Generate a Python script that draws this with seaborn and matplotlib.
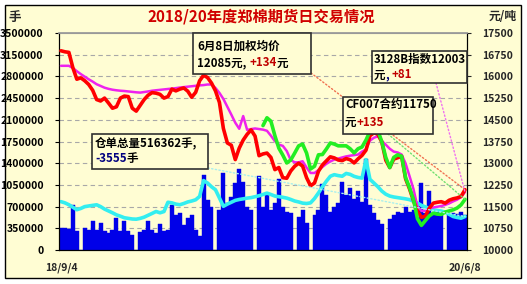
import numpy as np
import pandas as pd
import matplotlib
matplotlib.use("Agg")
import matplotlib.pyplot as plt
from matplotlib.patches import Rectangle
import seaborn as sns

# ---------------- data ----------------
date_labels = ["18/9/4", "20/6/8"]

volume = [360000, 350000, 340000, 720000, 300000, 0, 350000, 330000, 470000, 330000,
          440000, 300000, 280000, 330000, 520000, 300000, 460000, 300000, 250000, 0,
          290000, 330000, 470000, 330000, 280000, 420000, 300000, 330000, 720000, 560000,
          600000, 400000, 510000, 560000, 330000, 220000, 1210000, 800000, 700000, 0,
          650000, 1250000, 760000, 850000, 1080000, 1300000, 1100000, 700000, 650000, 0,
          1190000, 700000, 880000, 650000, 760000, 1150000, 700000, 620000, 600000, 0,
          540000, 650000, 430000, 0, 560000, 650000, 1060000, 880000, 620000, 700000,
          760000, 1100000, 880000, 1000000, 820000, 950000, 780000, 1460000, 720000, 600000,
          480000, 420000, 0, 500000, 560000, 620000, 600000, 700000, 620000, 650000,
          480000, 1080000, 600000, 950000, 560000, 650000, 600000, 0, 560000, 600000,
          580000, 620000, 560000]

open_interest = [780000, 760000, 730000, 690000, 650000, 670000, 700000, 710000, 720000, 729000,
                 700000, 660000, 630000, 600000, 567000, 545000, 520000, 510000, 500000, 497000,
                 510000, 530000, 560000, 590000, 621000, 600000, 620000, 770000, 760000, 740000,
                 730000, 750000, 775000, 790000, 810000, 864000, 1120000, 1080000, 1020000, 972000,
                 840000, 705000, 740000, 770000, 800000, 815000, 825000, 837000, 845000, 860000,
                 875000, 895000, 918000, 895000, 870000, 860000, 850000, 837000, 815000, 790000,
                 775000, 756000, 750000, 760000, 830000, 920000, 1020000, 1110000, 1190000, 1215000,
                 1200000, 1190000, 1235000, 1220000, 1188000, 1170000, 1160000, 1458000, 1140000, 1080000,
                 1020000, 950000, 900000, 870000, 855000, 845000, 835000, 825000, 812000, 785000,
                 756000, 720000, 695000, 670000, 648000, 638000, 628000, 610000, 575000, 540000,
                 525000, 513000, 540000]

weighted_price = [16885, 16850, 16830, 16300, 15903, 15950, 15850, 15720, 15520, 15200,
                  15150, 15250, 15080, 14900, 14950, 15250, 15320, 15300, 14900, 14800,
                  15000, 15200, 15350, 15440, 15420, 15380, 15250, 15300, 15560, 15500,
                  15560, 15600, 15490, 15280, 15450, 15850, 16040, 15960, 15770, 15500,
                  15100, 14200, 13700, 13620, 13125, 13520, 13800, 14000, 14150, 13935,
                  13260, 13320, 13350, 13200, 12778, 12850, 12500, 12480, 12730, 12894,
                  13000, 12900, 12500, 12220, 12315, 12720, 12940, 13080, 13220, 13183,
                  13110, 13090, 13160, 13120, 13009, 13150, 13270, 13450, 13950, 14051,
                  14000, 13730, 13100, 12850, 13140, 13190, 13240, 12460, 12110, 11700,
                  11340, 11130, 11170, 11450, 11620, 11650, 11670, 11620, 11720, 11770,
                  11800, 11850, 12085]

index_3128b = [16366, 16366, 16366, 16290, 16180, 16080, 15990, 15900, 15820, 15729,
               15670, 15610, 15570, 15540, 15520, 15505, 15495, 15480, 15465, 15450,
               15440, 15460, 15480, 15505, 15521, 15535, 15550, 15565, 15578, 15595,
               15615, 15630, 15645, 15660, 15675, 15690, 15700, 15720, 15720, 15600,
               15430, 15220, 14950, 14680, 14400, 14190, 14630, 14150, 14180, 14200,
               14180, 14160, 14120, 13950, 13760, 13640, 13600, 13420, 13110, 13030,
               13030, 13067, 12850, 12662, 12662, 12760, 12870, 12980, 13060, 13125,
               13160, 13200, 13235, 13260, 13280, 13300, 13400, 13480, 13780, 13880,
               13930, 13770, 13640, 13500, 13400, 13370, 13300, 12990, 12550, 12100,
               11500, 11350, 11360, 11440, 11470, 11495, 11520, 11560, 11610, 11680,
               11740, 11830, 12003]

cf007 = [np.nan] * 51 + [
    14300, 14570, 14450, 13950, 13520, 13280, 13009, 13110, 13350,
    13600, 13660, 13350, 12800, 12894, 13290, 13300, 13490, 13700, 13660,
    13600, 13600, 13600, 13500, 13356, 13500, 13560, 13800, 14100, 14167,
    14130, 13740, 13200, 12850, 13200, 13290, 13240, 12500, 12150, 11736,
    11080, 10850, 11020, 11180, 11273, 11240, 11230, 11310, 11350, 11389,
    11450, 11560, 11750]

left_ticks = [0, 350000, 700000, 1050000, 1400000, 1750000, 2100000, 2450000,
              2800000, 3150000, 3500000]
right_ticks = [10000, 10750, 11500, 12250, 13000, 13750, 14500, 15250, 16000,
               16750, 17500]

idx = np.arange(len(volume))
df = pd.DataFrame({"i": idx, "volume": volume, "oi": open_interest,
                   "price": weighted_price, "idx3128": index_3128b, "cf007": cf007})

# ---------------- style ----------------
sns.set_theme(style="white")
plt.rcParams["font.family"] = ["Noto Sans CJK SC", "DejaVu Sans"]
plt.rcParams["axes.unicode_minus"] = False

BG = "#FFFDD3"
W, H = 527, 284
fig = plt.figure(figsize=(W / 100, H / 100), dpi=100)
fig.patch.set_facecolor("white")
fig.add_artist(Rectangle((5 / W, 1 - 278 / H), 516 / W, 273 / H, transform=fig.transFigure,
                         facecolor=BG, edgecolor="black", linewidth=1.0, zorder=-5))

L, R, T, B = 59, 467, 33, 250
ax = fig.add_axes([L / W, 1 - B / H, (R - L) / W, (B - T) / H])
ax.set_facecolor(BG)

sns.barplot(data=df, x="i", y="volume", width=1.0, color="#0000E8",
            saturation=1, errorbar=None, linewidth=0, ax=ax, zorder=2)
for p in ax.patches:
    p.set_edgecolor("#0000E8")
    p.set_linewidth(0.3)
sns.lineplot(data=df, x="i", y="oi", color="#33EEF0", linewidth=2.6, ax=ax, zorder=3)

ax.set_ylim(0, 3500000)
ax.set_xlim(-0.5, len(volume) - 0.5)
ax.set_yticks(left_ticks)
ax.set_yticklabels([str(t) for t in left_ticks])
ax.set_xticks([0, len(volume) - 1])
ax.set_xticklabels(date_labels)
ax.set_xlabel("")
ax.set_ylabel("")
for y in left_ticks[1:-1]:
    ax.axhline(y, color="#A8A8A8", linewidth=0.8, linestyle=(0, (4, 3)), zorder=1)
ax.tick_params(axis="y", which="both", left=True, length=3, width=0.8, pad=8,
               labelsize=7.5, colors="black")
ax.tick_params(axis="x", length=0, pad=9, labelsize=7.5)
for lab in ax.get_yticklabels() + ax.get_xticklabels():
    lab.set_fontweight("bold")
for s in ["left", "right", "bottom"]:
    ax.spines[s].set_color("black")
    ax.spines[s].set_linewidth(0.8)
ax.spines["top"].set_color("#999999")
ax.spines["top"].set_linewidth(0.8)

ax2 = ax.twinx()
ax2.patch.set_visible(False)
sns.lineplot(data=df, x="i", y="idx3128", color="#EE22EE", linewidth=1.8, ax=ax2, zorder=3)
sns.lineplot(data=df, x="i", y="price", color="#FF0000", linewidth=2.6, ax=ax2, zorder=4)
sns.lineplot(data=df.dropna(subset=["cf007"]), x="i", y="cf007", color="#22EE22",
             linewidth=2.6, ax=ax2, zorder=5)
ax2.set_ylim(10000, 17500)
ax2.set_xlim(-0.5, len(volume) - 0.5)
ax2.set_yticks(right_ticks)
ax2.set_yticklabels([str(t) for t in right_ticks])
ax2.set_ylabel("")
ax2.tick_params(axis="y", right=True, length=3, width=0.8, pad=8, labelsize=7.5)
for lab in ax2.get_yticklabels():
    lab.set_fontweight("bold")
for s in ["left", "right", "bottom"]:
    ax2.spines[s].set_color("black")
    ax2.spines[s].set_linewidth(0.8)
ax2.spines["top"].set_color("#999999")

# ---------------- overlay in pixel coordinates ----------------
ov = fig.add_axes([0, 0, 1, 1], zorder=10)
ov.set_xlim(0, W)
ov.set_ylim(H, 0)
ov.axis("off")
ov.patch.set_alpha(0)

ov.text(261, 16, "2018/20年度郑棉期货日交易情况", color="#D00000", fontsize=11,
        fontweight="bold", ha="center", va="center")
ov.text(8, 17, "手", fontsize=9, fontweight="bold", ha="left", va="center")
ov.text(517, 17, "元/吨", fontsize=8.5, fontweight="bold", ha="right", va="center")

n = len(volume) - 1
leaders = [
    ((311, 73), ax2, weighted_price[-1], "#F07050"),
    ((436, 83), ax2, index_3128b[-1], "#F070F0"),
    ((388, 134), ax2, cf007[-1], "#70E070"),
    ((208, 168), ax, open_interest[-1], "#A8EEEE"),
]
for (xt, yt), a, yv, c in leaders:
    ov.annotate("", xy=(n, yv), xycoords=a.transData, xytext=(xt, yt), textcoords="data",
                arrowprops=dict(arrowstyle="-", linestyle=":", color=c, linewidth=1.0,
                                shrinkA=0, shrinkB=0), zorder=1)

renderer = fig.canvas.get_renderer()


def seg_line(x, y, parts, size=8.3):
    for s, c in parts:
        t = ov.text(x, y, s, color=c, fontsize=size, fontweight="bold",
                    ha="left", va="center", zorder=6)
        x += t.get_window_extent(renderer=renderer).width


def box(x0, y0, x1, y1):
    ov.add_patch(Rectangle((x0, y0), x1 - x0, y1 - y0, facecolor=BG, edgecolor="#303030",
                           linewidth=1.2, zorder=5))


DARKRED = "#C00000"
NAVY = "#000080"
box(193, 33, 311, 74)
seg_line(197, 46, [("6月8日加权均价", "black")])
seg_line(197, 63, [("12085元, ", "black"), ("+134", DARKRED), ("元", "black")])

box(372, 51, 467, 83)
seg_line(374, 60, [("3128B指数12003", "black")])
seg_line(374, 75, [("元", "black"), (", ", NAVY), ("+81", DARKRED)])

box(343, 97, 433, 134)
seg_line(345, 104, [("CF007合约11750", "black")])
seg_line(345, 122, [("元", "black"), ("+135", DARKRED)])

box(92, 134, 208, 169)
seg_line(95, 143, [("仓单总量516362手,", "black")])
seg_line(95, 158, [("-3555", NAVY), ("手", "black")])

fig.savefig("out.png", dpi=100, facecolor=fig.get_facecolor())
